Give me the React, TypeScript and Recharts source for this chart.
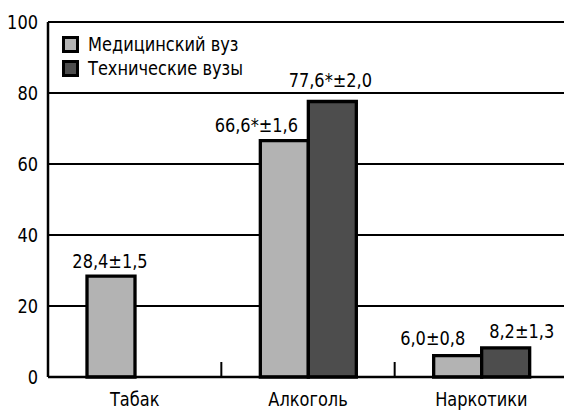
import React from "react";
import { BarChart, Bar, XAxis, YAxis, CartesianGrid, LabelList } from "recharts";

const categories = ["Табак", "Алкоголь", "Наркотики"];
const medValues = [28.4, 66.6, 6.0];
const techValues: (number | null)[] = [null, 77.6, 8.2];
const medLabels = ["28,4±1,5", "66,6*±1,6", "6,0±0,8"];
const techLabels = ["", "77,6*±2,0", "8,2±1,3"];
const yTicks = [0, 20, 40, 60, 80, 100];

const seriesNames = ["Медицинский вуз", "Технические вузы"];
const MED = "#b3b3b3";
const TECH = "#4d4d4d";
const FONT = "'Liberation Sans Narrow', 'DejaVu Sans Condensed', 'Arial Narrow', sans-serif";
const FS = 20;
const SX = 0.9; // squeeze text horizontally to mimic the condensed face
const X_LABEL_GAP = 15;
const SEP_LEN = 15;

// label placement tweaks (reference labels are not always centred on the bar)
const medShift = [
  { dx: -1, gap: 8 },
  { dx: -28, gap: 9 },
  { dx: -25, gap: 11 },
];
const techShift = [
  { dx: 0, gap: 0 },
  { dx: -2, gap: 15 },
  { dx: 16, gap: 10 },
];

const data = categories.map((name, i) => ({
  name,
  med: medValues[i],
  tech: techValues[i],
  medLabel: medLabels[i],
  techLabel: techLabels[i],
}));

function SText({ x, y, anchor, dy, children }: any) {
  return (
    <text
      transform={`translate(${x},${y}) scale(${SX},1)`}
      x={0}
      y={0}
      dy={dy}
      textAnchor={anchor}
      fontFamily={FONT}
      fontSize={FS}
      fill="#000"
    >
      {children}
    </text>
  );
}

function makeLabel(labels: string[], shift: { dx: number; gap: number }[]) {
  return (props: any) => {
    const { x, y, width, value } = props;
    if (!value) return null;
    const s = shift[labels.indexOf(value)] ?? { dx: 0, gap: 8 };
    return (
      <SText x={Number(x) + Number(width) / 2 + s.dx} y={Number(y) - s.gap} anchor="middle">
        {value}
      </SText>
    );
  };
}

// category label plus a short upward separator tick at the right edge of the band
function XTick(props: any) {
  const { x, y, payload, index, width, visibleTicksCount } = props;
  const n = Number(visibleTicksCount) || categories.length;
  const band = (Number(width) || 520) / n;
  const axisY = y - X_LABEL_GAP;
  const sx = x + band / 2;
  return (
    <g>
      {index < n - 1 && (
        <line x1={sx} x2={sx} y1={axisY} y2={axisY - SEP_LEN} stroke="#000" strokeWidth={2} />
      )}
      <SText x={x} y={y} anchor="middle" dy="0.71em">
        {payload.value}
      </SText>
    </g>
  );
}

function YTick(props: any) {
  const { x, y, payload } = props;
  return (
    <SText x={x} y={y} anchor="end" dy="0.355em">
      {payload.value}
    </SText>
  );
}

export default function App() {
  return (
    <div style={{ position: "absolute", left: 0, top: 0, width: 564, height: 410, overflow: "hidden", background: "#fff" }}>
      <BarChart
        width={568}
        height={410}
        data={data}
        margin={{ top: 22, right: 0, bottom: 0, left: 0 }}
        barSize={48}
        barGap={0}
      >
        <CartesianGrid vertical={false} stroke="#000" strokeWidth={2} />
        <YAxis
          domain={[0, 100]}
          ticks={yTicks}
          width={48}
          axisLine={{ stroke: "#000", strokeWidth: 2.5 }}
          tickLine={false}
          tickMargin={4}
          tick={<YTick />}
        />
        <Bar dataKey="med" fill={MED} stroke="#000" strokeWidth={3.3} isAnimationActive={false}>
          <LabelList dataKey="medLabel" content={makeLabel(medLabels, medShift)} />
        </Bar>
        <Bar dataKey="tech" fill={TECH} stroke="#000" strokeWidth={3.3} isAnimationActive={false}>
          <LabelList dataKey="techLabel" content={makeLabel(techLabels, techShift)} />
        </Bar>
        <XAxis
          dataKey="name"
          height={33}
          axisLine={{ stroke: "#000", strokeWidth: 2.7 }}
          tickLine={false}
          tickSize={0}
          tickMargin={X_LABEL_GAP}
          tick={<XTick />}
        />
      </BarChart>
      <div style={{ position: "absolute", left: 62, top: 32, fontFamily: FONT, fontSize: FS, color: "#000" }}>
        {seriesNames.map((n, i) => (
          <div key={n} style={{ display: "flex", alignItems: "center", height: 24 }}>
            <span
              style={{
                display: "inline-block",
                width: 11,
                height: 11,
                border: "3px solid #000",
                background: i === 0 ? MED : TECH,
                marginRight: 9,
              }}
            />
            <span style={{ display: "inline-block", transform: `scaleX(${SX})`, transformOrigin: "left center" }}>{n}</span>
          </div>
        ))}
      </div>
    </div>
  );
}
